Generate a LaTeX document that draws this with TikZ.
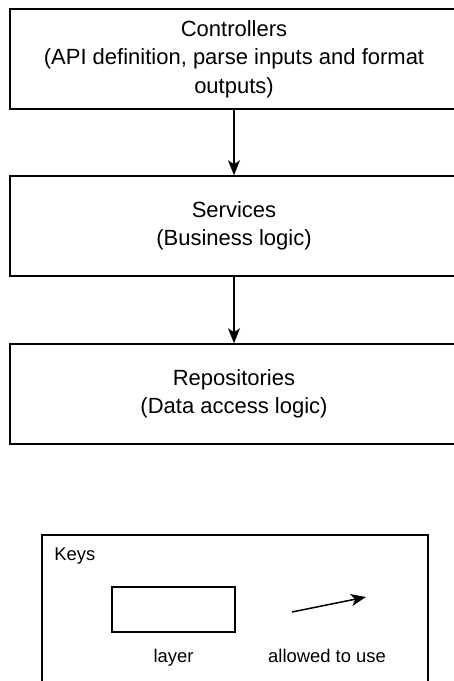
\documentclass[tikz,border=0pt]{standalone}
\usepackage{fontspec}
\setmainfont{Liberation Sans}
\usetikzlibrary{arrows.meta}

\begin{document}
\begin{tikzpicture}[x=1pt,y=-1pt]
	\tikzstyle{layerbox}=[draw,line width=1.5pt,minimum width=448pt,minimum height=100pt,
	inner sep=0pt,align=center,font=\fontsize{22}{28.5}\selectfont]
	\tikzstyle{uses}=[line width=1.5pt,-{Stealth[length=15pt,width=12pt,inset=4pt]}]
	\tikzstyle{keytext}=[inner sep=0pt,font=\fontsize{18.4}{22}\selectfont]
	\tikzstyle{keybox}=[draw,line width=1.5pt,inner sep=0pt]
	\clip (0,0) rectangle (454,681);
	% layers
	\node[layerbox] (ctrl) at (234,59) {Controllers\\
		(API definition, parse inputs and format\\ outputs)};
	\node[layerbox] (svc) at (234,226) {Services\\ (Business logic)};
	\node[layerbox] (repo) at (234,394) {Repositories\\ (Data access logic)};
	\draw[uses] (ctrl) -- (svc);
	\draw[uses] (svc) -- (repo);
	% keys
	\node[keybox,minimum width=386pt,minimum height=170pt] (keys) at (235,620) {};
	\node[keytext,anchor=base west] (keystitle) at ([xshift=13pt,yshift=-26pt]keys.north west) {Keys};
	\node[keybox,minimum width=123pt,minimum height=45pt] (layersample) at (173.5,609.5) {};
	\node[keytext,anchor=base] (layerlabel) at (173.5,662) {layer};
	\coordinate (usefrom) at (292,612);
	\coordinate (useto) at (366,597);
	\draw[uses] (usefrom) -- (useto);
	\node[keytext,anchor=base] (useslabel) at (327,662) {allowed to use};
\end{tikzpicture}
\end{document}
